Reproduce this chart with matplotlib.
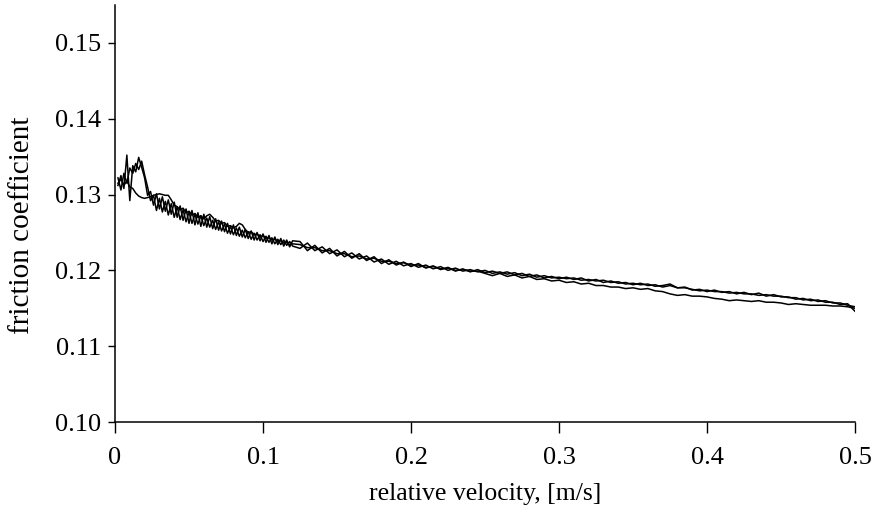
import numpy as np
import matplotlib
matplotlib.use("Agg")
import matplotlib.pyplot as plt

plt.rcParams['font.family'] = ['Liberation Serif', 'DejaVu Serif']

# sampling grid: fine at low velocity, coarser afterwards
velocity = np.concatenate([np.arange(1, 61) * 0.002, 0.12 + np.arange(1, 77) * 0.005])

# run A (thin line, ends lowest)
friction_a = [
    0.1315, 0.1320, 0.1312, 0.1318, 0.1310, 0.1308, 0.1302, 0.1298, 0.1296, 0.1295,
    0.1296, 0.1297, 0.1299, 0.1300, 0.1301, 0.1300, 0.1299, 0.1299, 0.1293, 0.1286,
    0.1284, 0.1280, 0.1282, 0.1276, 0.1278, 0.1273, 0.1275, 0.1270, 0.1272, 0.1268,
    0.1272, 0.1274, 0.1270, 0.1265, 0.1266, 0.1262, 0.1263, 0.1258, 0.1259, 0.1256,
    0.1258, 0.1262, 0.1260, 0.1254, 0.1250, 0.1251, 0.1247, 0.1248, 0.1244, 0.1246,
    0.1242, 0.1243, 0.1240, 0.1241, 0.1238, 0.1239, 0.1236, 0.1237, 0.1234, 0.1235,
    0.1234, 0.1230, 0.1230, 0.1226, 0.1226, 0.1222, 0.1222, 0.1218, 0.1219, 0.1215,
    0.1216, 0.1212, 0.1212, 0.1209, 0.1210, 0.1207, 0.1207, 0.1204, 0.1205, 0.1202,
    0.1203, 0.1200, 0.1201, 0.1199, 0.1199, 0.1196, 0.1193, 0.1196, 0.1192, 0.1194,
    0.1190, 0.1192, 0.1188, 0.1189, 0.1186, 0.1187, 0.1184, 0.1185, 0.1182, 0.1183,
    0.1180, 0.1180, 0.1178, 0.1178, 0.1176, 0.1177, 0.1175, 0.1176, 0.1173, 0.1172,
    0.1169, 0.1167, 0.1168, 0.1166, 0.1166, 0.1165, 0.1163, 0.1162, 0.1160, 0.1161,
    0.1160, 0.1159, 0.1160, 0.1158, 0.1158, 0.1157, 0.1155, 0.1156, 0.1155, 0.1154,
    0.1154, 0.1154, 0.1153, 0.1153, 0.1152, 0.1150,
]

# run B (strong stick-slip oscillation at low speed)
friction_b = [
    0.1312, 0.1325, 0.1308, 0.1352, 0.1292, 0.1338, 0.1330, 0.1349, 0.1336, 0.1322,
    0.1299, 0.1304, 0.1286, 0.1301, 0.1281, 0.1297, 0.1278, 0.1293, 0.1274, 0.1290,
    0.1270, 0.1285, 0.1266, 0.1281, 0.1262, 0.1279, 0.1260, 0.1276, 0.1258, 0.1274,
    0.1257, 0.1271, 0.1255, 0.1268, 0.1253, 0.1265, 0.1251, 0.1262, 0.1248, 0.1260,
    0.1246, 0.1257, 0.1244, 0.1254, 0.1242, 0.1252, 0.1240, 0.1250, 0.1239, 0.1248,
    0.1237, 0.1246, 0.1235, 0.1244, 0.1234, 0.1242, 0.1232, 0.1240, 0.1231, 0.1239,
    0.1238, 0.1226, 0.1233, 0.1223, 0.1229, 0.1219, 0.1225, 0.1216, 0.1222, 0.1213,
    0.1218, 0.1209, 0.1214, 0.1207, 0.1211, 0.1205, 0.1209, 0.1203, 0.1206, 0.1201,
    0.1204, 0.1199, 0.1202, 0.1198, 0.1201, 0.1197, 0.1199, 0.1196, 0.1198, 0.1194,
    0.1196, 0.1192, 0.1194, 0.1190, 0.1192, 0.1189, 0.1191, 0.1188, 0.1190, 0.1186,
    0.1188, 0.1184, 0.1186, 0.1183, 0.1184, 0.1181, 0.1183, 0.1180, 0.1181, 0.1178,
    0.1180, 0.1177, 0.1178, 0.1174, 0.1175, 0.1172, 0.1174, 0.1171, 0.1172, 0.1169,
    0.1171, 0.1168, 0.1170, 0.1166, 0.1168, 0.1165, 0.1165, 0.1162, 0.1163, 0.1160,
    0.1161, 0.1158, 0.1158, 0.1155, 0.1156, 0.1146,
]

# run C
friction_c = [
    0.1322, 0.1306, 0.1328, 0.1315, 0.1335, 0.1328, 0.1341, 0.1333, 0.1344, 0.1326,
    0.1310, 0.1292, 0.1299, 0.1279, 0.1295, 0.1277, 0.1291, 0.1273, 0.1288, 0.1270,
    0.1284, 0.1267, 0.1280, 0.1264, 0.1277, 0.1262, 0.1274, 0.1261, 0.1272, 0.1259,
    0.1269, 0.1257, 0.1266, 0.1254, 0.1264, 0.1252, 0.1261, 0.1249, 0.1258, 0.1247,
    0.1256, 0.1245, 0.1253, 0.1243, 0.1251, 0.1241, 0.1249, 0.1240, 0.1247, 0.1238,
    0.1245, 0.1237, 0.1243, 0.1235, 0.1241, 0.1234, 0.1240, 0.1233, 0.1238, 0.1232,
    0.1229, 0.1236, 0.1226, 0.1231, 0.1222, 0.1227, 0.1218, 0.1223, 0.1215, 0.1219,
    0.1211, 0.1215, 0.1208, 0.1212, 0.1206, 0.1209, 0.1204, 0.1207, 0.1202, 0.1205,
    0.1200, 0.1203, 0.1199, 0.1201, 0.1198, 0.1200, 0.1196, 0.1198, 0.1195, 0.1197,
    0.1193, 0.1195, 0.1191, 0.1193, 0.1190, 0.1191, 0.1189, 0.1190, 0.1187, 0.1188,
    0.1186, 0.1187, 0.1184, 0.1185, 0.1182, 0.1183, 0.1181, 0.1182, 0.1179, 0.1180,
    0.1182, 0.1177, 0.1177, 0.1175, 0.1173, 0.1174, 0.1172, 0.1172, 0.1170, 0.1171,
    0.1169, 0.1169, 0.1167, 0.1168, 0.1166, 0.1166, 0.1164, 0.1164, 0.1161, 0.1162,
    0.1159, 0.1160, 0.1157, 0.1157, 0.1154, 0.1152,
]

x_ticks = [0, 0.1, 0.2, 0.3, 0.4, 0.5]
x_tick_labels = ['0', '0.1', '0.2', '0.3', '0.4', '0.5']
y_ticks = [0.10, 0.11, 0.12, 0.13, 0.14, 0.15]

fig = plt.figure(figsize=(8.82, 5.09), dpi=100)
ax = fig.add_axes([0.1304, 0.1709, 0.8390, 0.8193])

for f in (friction_a, friction_b, friction_c):
    ax.plot(velocity, f, color='black', lw=1.1)

ax.set_xlim(0, 0.5)
ax.set_ylim(0.10, 0.155)
ax.set_xticks(x_ticks)
ax.set_xticklabels(x_tick_labels)
ax.set_yticks(y_ticks)
ax.set_yticklabels([f'{v:.2f}' for v in y_ticks])

ax.spines['top'].set_visible(False)
ax.spines['right'].set_visible(False)
for s in ('left', 'bottom'):
    ax.spines[s].set_linewidth(1.1)

ax.tick_params(axis='x', direction='out', length=8, width=1, labelsize=19, pad=10)
ax.tick_params(axis='y', direction='out', length=5, width=1, labelsize=19, pad=5)

ax.set_xlabel('relative velocity, [m/s]', fontsize=18.5, labelpad=10)
ax.set_ylabel('friction coefficient', fontsize=21)
ax.yaxis.set_label_coords(-0.108, 0.472)

fig.savefig('out.png', dpi=100)
